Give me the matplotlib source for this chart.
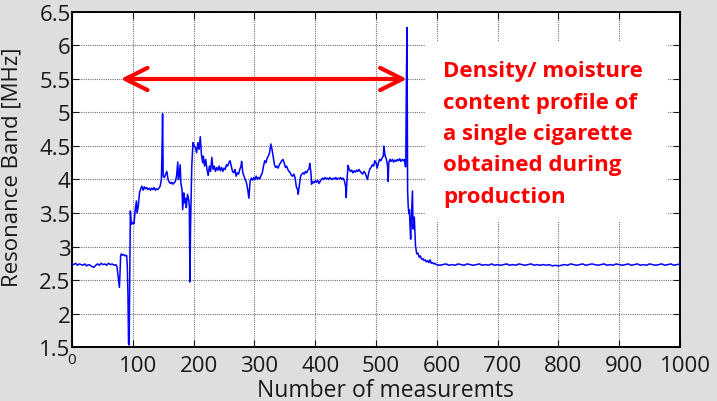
"""Perfil de densidad/humedad de un cigarrillo (banda de resonancia)."""

import matplotlib

matplotlib.use("Agg")
import matplotlib.pyplot as plt
import matplotlib.transforms as mtransforms
import numpy as np
from matplotlib.patches import Rectangle

# tramo previo (sensor vacio + entrada del cigarrillo)
lead_x = [0, 3, 6, 9, 12, 15, 18, 21, 24, 27, 30, 33, 36, 39, 42, 45, 48, 51,
          54, 57, 60, 63, 66, 69, 72, 74, 75, 77, 78, 79, 80, 81, 83, 85, 87,
          89, 90, 91, 92, 93, 94, 95]
lead_y = [2.74, 2.73, 2.75, 2.72, 2.74, 2.73, 2.72, 2.74, 2.71, 2.73, 2.72,
          2.70, 2.69, 2.72, 2.74, 2.72, 2.75, 2.73, 2.74, 2.72, 2.75, 2.73,
          2.74, 2.72, 2.73, 2.70, 2.62, 2.45, 2.39, 2.60, 2.86, 2.89, 2.87,
          2.88, 2.86, 2.87, 2.86, 2.70, 2.30, 1.55, 1.53, 2.60]

# cigarrillo
cig_x = [96, 97, 98, 100, 102, 104, 106, 107, 109, 111, 113, 115, 117, 119,
         121, 123, 125, 127, 129, 131, 133, 135, 137, 139, 141, 143, 145, 147,
         148, 149, 150, 152, 154, 156, 158, 160, 162, 164, 166, 168, 170, 172,
         174, 175, 176, 178, 179, 181, 182, 184, 185, 187, 188, 190, 192, 193,
         194, 195, 197, 199, 201, 203, 205, 207, 209, 211, 213, 215, 216, 218,
         220, 222, 224, 226, 228, 230, 232, 234, 236, 238, 240, 242, 244, 246,
         248, 250, 252, 254, 256, 258, 260, 262, 264, 266, 268, 270, 272, 274,
         276, 278, 279, 281, 284, 287, 289, 291, 293, 295, 297, 299, 301, 303,
         305, 307, 309, 311, 313, 315, 317, 319, 321, 323, 325, 327, 329, 331,
         333, 335, 337, 339, 341, 343, 345, 347, 349, 351, 353, 355, 357, 359,
         361, 363, 365, 367, 369, 371, 372, 374, 376, 378, 380, 382, 384, 386,
         388, 390, 391, 393, 394, 396, 398, 400, 402, 404, 406, 408, 410, 412,
         414, 416, 418, 420, 422, 424, 426, 428, 430, 432, 434, 436, 438, 440,
         442, 444, 446, 448, 450, 451, 452, 454, 456, 458, 460, 462, 464, 466,
         468, 470, 472, 474, 476, 478, 480, 482, 484, 486, 488, 490, 492, 494,
         496, 498, 500, 502, 504, 506, 508, 510, 512, 513, 515, 517, 519, 520,
         521, 523, 525, 527, 529, 531, 533, 535, 537, 539, 541, 543, 545, 547,
         548, 549, 550, 551]
cig_y = [3.53, 3.40, 3.33, 3.36, 3.34, 3.55, 3.68, 3.50, 3.60, 3.80, 3.86,
         3.90, 3.84, 3.89, 3.86, 3.88, 3.85, 3.87, 3.84, 3.87, 3.85, 3.88,
         3.84, 3.86, 3.85, 3.87, 3.90, 4.00, 4.40, 4.98, 4.05, 4.03, 4.08,
         4.12, 4.00, 3.96, 3.94, 3.96, 3.93, 3.95, 3.97, 4.05, 4.26, 4.00,
         4.05, 4.22, 3.95, 3.85, 3.55, 3.80, 3.65, 3.72, 3.58, 3.78, 3.70,
         3.60, 2.47, 3.30, 4.20, 4.55, 4.50, 4.48, 4.40, 4.55, 4.45, 4.64,
         4.36, 4.25, 4.35, 4.20, 4.30, 4.15, 4.06, 4.20, 4.12, 4.33, 4.15,
         4.20, 4.12, 4.18, 4.14, 4.20, 4.13, 4.18, 4.12, 4.17, 4.15, 4.22,
         4.20, 4.25, 4.28, 4.20, 4.12, 4.10, 4.15, 4.05, 4.10, 4.08, 4.15,
         4.20, 4.27, 4.10, 4.02, 3.95, 3.85, 3.72, 3.98, 4.02, 3.99, 4.03,
         4.00, 4.05, 4.00, 4.03, 4.01, 4.06, 4.10, 4.20, 4.28, 4.25, 4.32,
         4.35, 4.40, 4.53, 4.45, 4.33, 4.22, 4.18, 4.20, 4.17, 4.22, 4.25,
         4.28, 4.30, 4.25, 4.18, 4.20, 4.15, 4.12, 4.10, 4.06, 4.05, 4.08,
         4.02, 3.89, 3.85, 3.78, 3.92, 4.05, 4.08, 4.10, 4.08, 4.12, 4.10,
         4.14, 4.16, 4.24, 4.10, 3.93, 3.97, 3.95, 3.98, 3.96, 3.99, 3.94,
         3.97, 4.00, 4.02, 4.00, 4.03, 4.01, 4.02, 4.00, 4.03, 4.01, 4.00,
         4.02, 4.01, 4.03, 4.00, 4.02, 4.01, 4.03, 4.00, 4.02, 3.98, 3.90,
         3.73, 3.95, 4.21, 4.15, 4.12, 4.14, 4.10, 4.13, 4.11, 4.14, 4.12,
         4.15, 4.12, 4.10, 4.08, 4.12, 4.10, 4.05, 4.00, 4.10, 4.16, 4.18,
         4.22, 4.20, 4.28, 4.25, 4.17, 4.25, 4.30, 4.28, 4.32, 4.35, 4.50,
         4.35, 4.31, 4.20, 3.97, 4.25, 4.30, 4.27, 4.30, 4.26, 4.29, 4.27,
         4.30, 4.28, 4.31, 4.27, 4.30, 4.28, 4.30, 4.20, 4.19, 5.50, 6.27]

# salida del cigarrillo y sensor vacio
tail_x = [552, 553, 554, 555, 556, 557, 558, 560, 561, 563, 565, 567, 569,
          571, 573, 575, 577, 579, 581, 583, 585, 587, 589, 591, 593, 595,
          597, 599, 605, 610, 615, 620, 625, 630, 635, 640, 645, 650, 655,
          660, 665, 670, 675, 680, 685, 690, 695, 700, 705, 710, 715, 720,
          725, 730, 735, 740, 745, 750, 755, 760, 765, 770, 775, 780, 785,
          790, 795, 800, 805, 810, 815, 820, 825, 830, 835, 840, 845, 850,
          855, 860, 865, 870, 875, 880, 885, 890, 895, 900, 905, 910, 915,
          920, 925, 930, 935, 940, 945, 950, 955, 960, 965, 970, 975, 980,
          985, 990, 995, 1000]
tail_y = [3.83, 3.60, 3.49, 3.55, 3.30, 3.11, 3.40, 3.83, 3.26, 3.44, 3.01,
          2.89, 2.90, 2.84, 2.86, 2.81, 2.82, 2.79, 2.80, 2.77, 2.79, 2.76,
          2.80, 2.75, 2.76, 2.74, 2.75, 2.73, 2.72, 2.73, 2.74, 2.72, 2.73,
          2.72, 2.74, 2.73, 2.72, 2.74, 2.73, 2.72, 2.73, 2.74, 2.72, 2.73,
          2.72, 2.74, 2.72, 2.73, 2.72, 2.73, 2.74, 2.72, 2.73, 2.72, 2.74,
          2.73, 2.72, 2.73, 2.74, 2.72, 2.73, 2.72, 2.73, 2.72, 2.73, 2.71,
          2.72, 2.71, 2.72, 2.73, 2.72, 2.74, 2.73, 2.72, 2.73, 2.74, 2.72,
          2.73, 2.74, 2.73, 2.72, 2.73, 2.74, 2.72, 2.73, 2.72, 2.74, 2.73,
          2.72, 2.73, 2.74, 2.72, 2.73, 2.74, 2.72, 2.73, 2.72, 2.74, 2.73,
          2.72, 2.73, 2.74, 2.72, 2.73, 2.74, 2.72, 2.73, 2.74]

x_ticks = [0, 100, 200, 300, 400, 500, 600, 700, 800, 900, 1000]
y_ticks = [1.5, 2, 2.5, 3, 3.5, 4, 4.5, 5, 5.5, 6, 6.5]
arrow_span = (80, 551)
arrow_level = 5.5
note = "Density/ moisture\ncontent profile of\na single cigarette\nobtained during\nproduction"

plt.rcParams["font.family"] = ["Open Sans", "DejaVu Sans"]
INK = "#1a1a1a"

x = np.array(lead_x + cig_x + tail_x)
y = np.array(lead_y + cig_y + tail_y)

fig = plt.figure(figsize=(7.17, 4.02), dpi=100, facecolor="#dedede")
ax = fig.add_axes([0.1004, 0.1343, 0.8480, 0.8334])
ax.set_facecolor("white")

ax.plot(x, y, color="#0000ff", linewidth=1.1, zorder=3)

ax.set_xlim(0, 1000)
ax.set_ylim(1.5, 6.5)
ax.set_xticks(x_ticks)
ax.set_yticks(y_ticks)
ax.set_xticklabels([""] + [str(v) for v in x_ticks[1:]])
ax.set_yticklabels([f"{v:g}" for v in y_ticks])
ax.grid(True, color="#707070", linestyle=(0, (1, 1)), linewidth=0.8, zorder=1)
ax.tick_params(direction="in", length=5, width=0.8, top=True, right=True,
               labelsize=16, colors=INK)
ax.tick_params(axis="y", pad=1)
ax.tick_params(axis="x", pad=6)
shift = mtransforms.ScaledTranslation(0.05, 0, fig.dpi_scale_trans)
for lab in ax.get_xticklabels():
    lab.set_transform(lab.get_transform() + shift)
for sp in ax.spines.values():
    sp.set_linewidth(1.4)
    sp.set_color("black")
ax.text(0, -0.015, "0", transform=ax.get_xaxis_transform(), ha="center",
        va="top", fontsize=11, color=INK)

ax.set_ylabel("Resonance Band [MHz]", fontsize=16, color=INK)
ax.yaxis.set_label_coords(-0.082, 0.54)
ax.set_xlabel("Number of measuremts", fontsize=16.5, color=INK)
ax.xaxis.set_label_coords(0.516, -0.092)

ax.annotate("", xy=(arrow_span[0], arrow_level), xytext=(arrow_span[1], arrow_level),
            arrowprops=dict(arrowstyle="<->,head_length=0.8,head_width=0.4",
                            color="#ff0000", lw=3, mutation_scale=20,
                            shrinkA=0, shrinkB=0), zorder=4)

# recuadro blanco detras de la nota (tapa la reticula)
ax.add_patch(Rectangle((0.5806, 0.373), 0.398, 0.540, transform=ax.transAxes,
                       facecolor="white", edgecolor="none", zorder=2))
ax.text(0.611, 0.856, note, transform=ax.transAxes, ha="left", va="top",
        fontsize=16, fontweight="bold", color="#ff0000", linespacing=1.65,
        zorder=5)

fig.savefig("out.png", dpi=100, facecolor=fig.get_facecolor())
